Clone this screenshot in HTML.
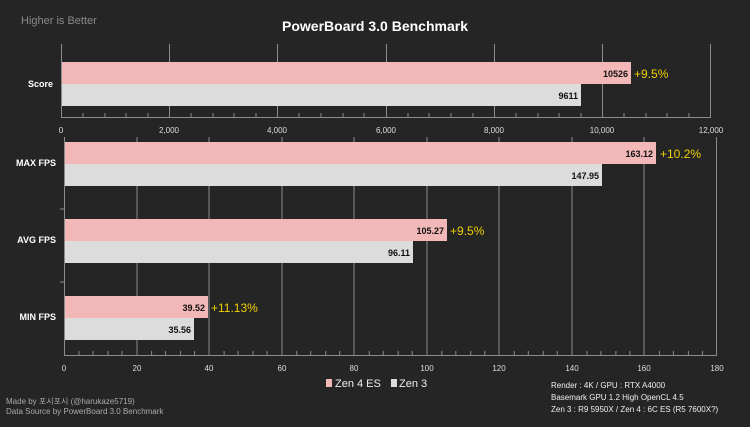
<!DOCTYPE html>
<html><head><meta charset="utf-8"><style>
body{margin:0;background:#252525;width:750px;height:422px;overflow:hidden;font-family:"Liberation Sans","Noto Sans CJK KR",sans-serif}
</style></head><body>
<svg width="750" height="422" xmlns="http://www.w3.org/2000/svg" font-family="Liberation Sans, Noto Sans CJK KR, sans-serif">
<rect width="750" height="422" fill="#252525"/>
<text x="21" y="24" font-size="11" fill="#8a8a8a">Higher is Better</text>
<text x="375" y="31" font-size="14" font-weight="bold" fill="#fff" text-anchor="middle">PowerBoard 3.0 Benchmark</text>
<g stroke="#8c8c8c" stroke-width="1">
<line x1="61.5" y1="44" x2="61.5" y2="117"/>
<line x1="61" y1="117.5" x2="711" y2="117.5"/>
<line x1="169.5" y1="44" x2="169.5" y2="117"/><line x1="277.5" y1="44" x2="277.5" y2="117"/>
<line x1="386.5" y1="44" x2="386.5" y2="117"/><line x1="494.5" y1="44" x2="494.5" y2="117"/>
<line x1="602.5" y1="44" x2="602.5" y2="117"/><line x1="710.5" y1="44" x2="710.5" y2="117"/>
</g>
<g stroke="#8c8c8c">
<line x1="83" y1="113" x2="83" y2="117"/><line x1="105" y1="113" x2="105" y2="117"/><line x1="126" y1="113" x2="126" y2="117"/><line x1="148" y1="113" x2="148" y2="117"/>
<line x1="191" y1="113" x2="191" y2="117"/><line x1="213" y1="113" x2="213" y2="117"/><line x1="234" y1="113" x2="234" y2="117"/><line x1="256" y1="113" x2="256" y2="117"/>
<line x1="299" y1="113" x2="299" y2="117"/><line x1="321" y1="113" x2="321" y2="117"/><line x1="343" y1="113" x2="343" y2="117"/><line x1="364" y1="113" x2="364" y2="117"/>
<line x1="408" y1="113" x2="408" y2="117"/><line x1="429" y1="113" x2="429" y2="117"/><line x1="451" y1="113" x2="451" y2="117"/><line x1="473" y1="113" x2="473" y2="117"/>
<line x1="516" y1="113" x2="516" y2="117"/><line x1="538" y1="113" x2="538" y2="117"/><line x1="559" y1="113" x2="559" y2="117"/><line x1="581" y1="113" x2="581" y2="117"/>
<line x1="624" y1="113" x2="624" y2="117"/><line x1="646" y1="113" x2="646" y2="117"/><line x1="667" y1="113" x2="667" y2="117"/><line x1="689" y1="113" x2="689" y2="117"/>
</g>
<rect x="62" y="62" width="569" height="22" fill="#f2b8b8"/>
<rect x="62" y="84" width="519" height="22" fill="#dcdcdc"/>
<text x="628" y="77" font-size="9" font-weight="bold" text-anchor="end" fill="#111">10526</text>
<text x="578" y="99" font-size="9" font-weight="bold" text-anchor="end" fill="#111">9611</text>
<text x="634" y="78" font-size="12" fill="#f0d000">+9.5%</text>
<text x="53" y="87" font-size="9" font-weight="bold" text-anchor="end" fill="#fff">Score</text>
<g font-size="8" fill="#ddd" text-anchor="middle">
<text x="61" y="133">0</text><text x="169" y="133">2,000</text><text x="277" y="133">4,000</text><text x="386" y="133">6,000</text><text x="494" y="133">8,000</text><text x="602" y="133">10,000</text><text x="711" y="133">12,000</text>
</g>
<g stroke="#8c8c8c">
<line x1="64.5" y1="137" x2="64.5" y2="355"/>
<line x1="64" y1="355.5" x2="717" y2="355.5"/>
<line x1="137" y1="137" x2="137" y2="355"/><line x1="209" y1="137" x2="209" y2="355"/><line x1="282" y1="137" x2="282" y2="355"/><line x1="354" y1="137" x2="354" y2="355"/><line x1="427" y1="137" x2="427" y2="355"/><line x1="499" y1="137" x2="499" y2="355"/><line x1="572" y1="137" x2="572" y2="355"/><line x1="644" y1="137" x2="644" y2="355"/><line x1="716.5" y1="137" x2="716.5" y2="355"/>
<line x1="60" y1="209" x2="64" y2="209"/><line x1="60" y1="282" x2="64" y2="282"/>
</g>
<g stroke="#8c8c8c" id="mt">
<line x1="79" y1="351" x2="79" y2="355"/><line x1="93" y1="351" x2="93" y2="355"/><line x1="108" y1="351" x2="108" y2="355"/><line x1="122" y1="351" x2="122" y2="355"/>
</g>
<use href="#mt" x="72.6"/><use href="#mt" x="145.1"/><use href="#mt" x="217.7"/><use href="#mt" x="290.2"/><use href="#mt" x="362.8"/><use href="#mt" x="435.3"/><use href="#mt" x="507.9"/><use href="#mt" x="580.4"/>
<rect x="65" y="142" width="591" height="22" fill="#f2b8b8"/>
<rect x="65" y="164" width="537" height="22" fill="#dcdcdc"/>
<rect x="65" y="219" width="382" height="22" fill="#f2b8b8"/>
<rect x="65" y="241" width="348" height="22" fill="#dcdcdc"/>
<rect x="65" y="296" width="143" height="22" fill="#f2b8b8"/>
<rect x="65" y="318" width="129" height="22" fill="#dcdcdc"/>
<g font-size="9" font-weight="bold" text-anchor="end" fill="#111">
<text x="653" y="157">163.12</text><text x="599" y="179">147.95</text>
<text x="444" y="234">105.27</text><text x="410" y="256">96.11</text>
<text x="205" y="311">39.52</text><text x="191" y="333">35.56</text>
</g>
<g font-size="12" fill="#f0d000">
<text x="660" y="158">+10.2%</text><text x="450" y="235">+9.5%</text><text x="211" y="312">+11.13%</text>
</g>
<g font-size="9" font-weight="bold" text-anchor="end" fill="#fff">
<text x="56" y="166">MAX FPS</text><text x="56" y="243">AVG FPS</text><text x="56" y="320">MIN FPS</text>
</g>
<g font-size="8" fill="#ddd" text-anchor="middle">
<text x="64" y="371">0</text><text x="137" y="371">20</text><text x="209" y="371">40</text><text x="282" y="371">60</text><text x="354" y="371">80</text><text x="427" y="371">100</text><text x="499" y="371">120</text><text x="572" y="371">140</text><text x="644" y="371">160</text><text x="717" y="371">180</text>
</g>
<rect x="326" y="379" width="6" height="8" fill="#f2b8b8"/>
<text x="335" y="387" font-size="11" fill="#eee">Zen 4 ES</text>
<rect x="391" y="379" width="6" height="8" fill="#dcdcdc"/>
<text x="399" y="387" font-size="11" fill="#eee">Zen 3</text>
<g font-size="8" fill="#eee">
<text x="551" y="388">Render : 4K / GPU : RTX A4000</text>
<text x="551" y="400">Basemark GPU 1.2 High OpenCL 4.5</text>
<text x="551" y="412">Zen 3 : R9 5950X / Zen 4 : 6C ES (R5 7600X?)</text>
</g>
<g font-size="8" fill="#aaa">
<text x="6" y="404">Made by 포시포시 (@harukaze5719)</text>
<text x="6" y="414">Data Source by PowerBoard 3.0 Benchmark</text>
</g>
</svg>
</body></html>
